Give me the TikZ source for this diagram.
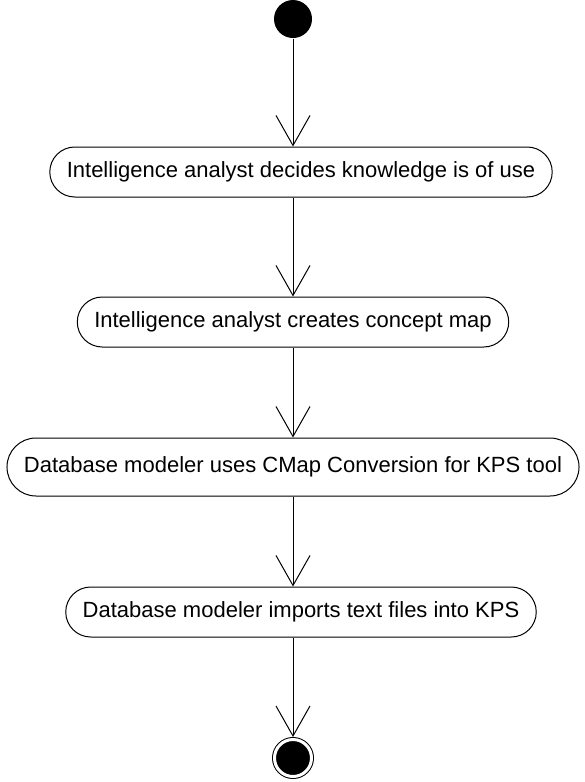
\documentclass[tikz,border=0pt]{standalone}
\usepackage{fontspec}
\setmainfont{Liberation Sans}
\usetikzlibrary{arrows.meta}
\begin{document}
\begin{tikzpicture}[x=1pt,y=1pt,line width=1pt,
    act/.style={draw,rectangle,rounded corners=25pt,minimum height=50pt,inner xsep=17pt,font=\fontsize{22}{26}\selectfont},
    >={Straight Barb[length=30pt,width=34pt]}]
\useasboundingbox (0,0) rectangle (584,-782);
\node[circle,fill=black,inner sep=0pt,minimum size=38pt] (0) at (293,-19) {};
\node[act] (1) at (301,-172) {Intelligence analyst decides knowledge is of use};
\node[act] (2) at (293,-322) {Intelligence analyst creates concept map};
\node[act,minimum height=58pt,rounded corners=29pt] (3) at (293,-467) {Database modeler uses CMap Conversion for KPS tool};
\node[act] (4) at (301,-612) {Database modeler imports text files into KPS};
\node[circle,fill=black,draw,double,double distance=3pt,inner sep=0pt,minimum size=37pt,outer sep=2.5pt] (5) at (293,-758) {};
\foreach \i[count=\j from 0] in {1,...,5} {
    \draw[->] (\j.south -| 0) -- (\i.north -| 0);
}
\end{tikzpicture}
\end{document}
